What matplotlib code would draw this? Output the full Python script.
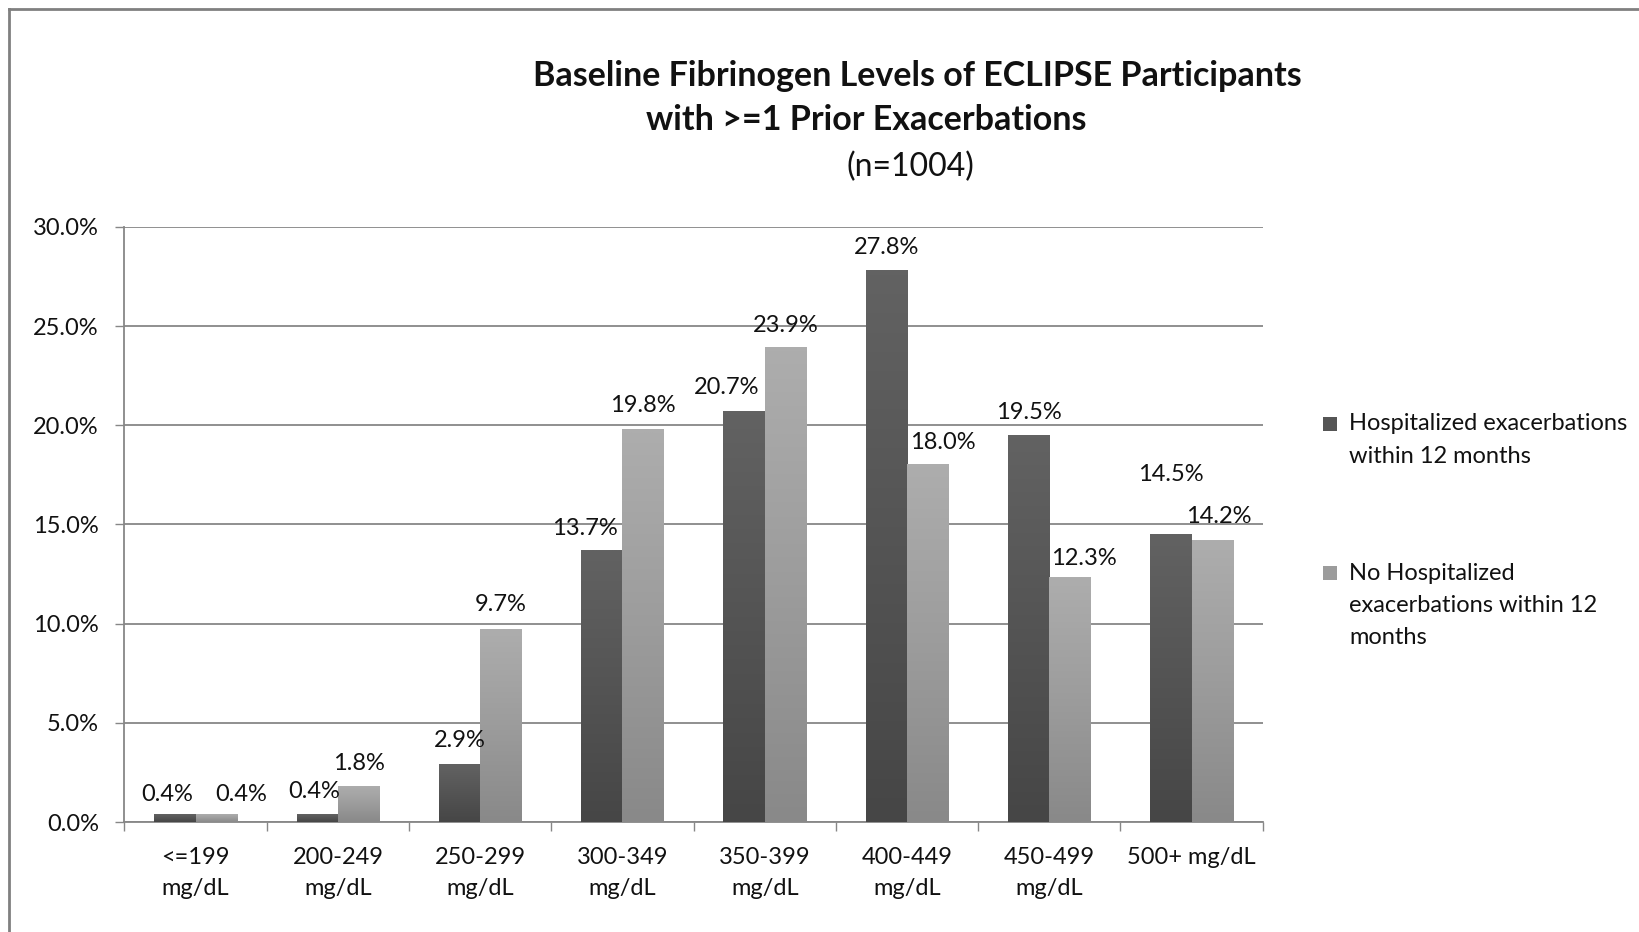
import numpy as np
import matplotlib
matplotlib.use("Agg")
import matplotlib.pyplot as plt
from matplotlib.colors import LinearSegmentedColormap
from matplotlib.patches import Rectangle
from matplotlib.lines import Line2D

plt.rcParams['font.family'] = ['Lato', 'DejaVu Sans']

# data
categories = ['<=199\nmg/dL', '200-249\nmg/dL', '250-299\nmg/dL', '300-349\nmg/dL',
              '350-399\nmg/dL', '400-449\nmg/dL', '450-499\nmg/dL', '500+ mg/dL']
hospitalized = [0.4, 0.4, 2.9, 13.7, 20.7, 27.8, 19.5, 14.5]
not_hospitalized = [0.4, 1.8, 9.7, 19.8, 23.9, 18.0, 12.3, 14.2]
series_names = [['Hospitalized exacerbations', 'within 12 months'],
                ['No Hospitalized', 'exacerbations within 12', 'months']]

# label nudges in pixels (where Excel put the labels)
dark_dx = [-8, -3, 0, -17, -17, 0, 0, 0]
dark_dy = [-3, 0, 1, -1, 1, 0, 0, 37]
light_dx = [25, 0, 0, 0, 0, 15, 14, 7]
light_dy = [-3, 0, 2, 1, -1, -1, -3, 1]

dark_cmap = LinearSegmentedColormap.from_list('dark', ['#464646', '#545454', '#626262'])
light_cmap = LinearSegmentedColormap.from_list('light', ['#898989', '#9c9c9c', '#adadad'])

fig = plt.figure(figsize=(16.4, 9.32), dpi=100)
ax = fig.add_axes([0.0759, 0.118, 0.694, 0.6386])

x = np.arange(len(categories))
w = 0.29
grad = np.linspace(0, 1, 100).reshape(-1, 1)

for vals, off, cmap, dxs, dys in [(hospitalized, -w / 2, dark_cmap, dark_dx, dark_dy),
                                   (not_hospitalized, w / 2, light_cmap, light_dx, light_dy)]:
    bars = ax.bar(x + off, vals, width=w, color='none', edgecolor='none', zorder=3)
    for b, v, dx, dy in zip(bars, vals, dxs, dys):
        x0 = b.get_x()
        ax.imshow(grad, extent=[x0, x0 + w, 0, v], origin='lower', aspect='auto',
                  cmap=cmap, zorder=3, interpolation='bilinear')
        ax.annotate(f'{v:.1f}%', (x0 + w / 2, v), xytext=(dx, 23 + dy),
                    textcoords='offset pixels', ha='center', va='center',
                    fontsize=17, color='#111111', zorder=5)

ax.set_xlim(-0.5, len(categories) - 0.5)
ax.set_ylim(0, 30)
ax.set_yticks(np.arange(0, 31, 5))
ax.set_yticklabels([f'{t:.1f}%' for t in np.arange(0, 31, 5)])
ax.set_xticks(x)
ax.set_xticklabels(categories, linespacing=1.6)
ax.set_xticks(np.arange(-0.5, len(categories), 1), minor=True)

ax.grid(axis='y', color='#878787', linewidth=1.3, zorder=0)
ax.set_axisbelow(True)
for s in ['top', 'right']:
    ax.spines[s].set_visible(False)
for s in ['left', 'bottom']:
    ax.spines[s].set_color('#878787')
    ax.spines[s].set_linewidth(1.3)

ax.tick_params(axis='y', direction='out', length=6.5, width=1.0, color='#878787',
               pad=12, labelsize=17, labelcolor='#111111')
ax.tick_params(axis='x', which='major', length=0, pad=18, labelsize=17, labelcolor='#111111')
ax.tick_params(axis='x', which='minor', direction='out', length=6.5, width=1.0, color='#878787')

# title
fig.text(917 / 1640, 1 - 76 / 932, 'Baseline Fibrinogen Levels of ECLIPSE Participants',
         ha='center', va='center', fontsize=24.5, fontweight='bold', color='#111111')
fig.text(866 / 1640, 1 - 120 / 932, 'with >=1 Prior Exacerbations',
         ha='center', va='center', fontsize=24.5, fontweight='bold', color='#111111')
fig.text(910 / 1640, 1 - 167 / 932, '(n=1004)',
         ha='center', va='center', fontsize=23, color='#111111')

# legend, drawn by hand so the square sits at the first text line
legend_colors = ['#555555', '#9c9c9c']
entry_top = [424, 573]
for name_lines, col, y0 in zip(series_names, legend_colors, entry_top):
    fig.add_artist(Rectangle(((1330 - 7) / 1640, 1 - (y0 + 7) / 932), 14 / 1640, 14 / 932,
                             transform=fig.transFigure, facecolor=col, edgecolor='none'))
    for k, line in enumerate(name_lines):
        fig.text(1349 / 1640, 1 - (y0 + 32.5 * k) / 932, line, ha='left', va='center',
                 fontsize=17, color='#111111')

# frame on top and left edges
fig.add_artist(Line2D([8.5 / 1640, 8.5 / 1640], [0, 1 - 8.5 / 932], transform=fig.transFigure,
                      color='#808080', linewidth=2))
fig.add_artist(Line2D([8.5 / 1640, 1], [1 - 8.5 / 932, 1 - 8.5 / 932], transform=fig.transFigure,
                      color='#808080', linewidth=2))

fig.savefig('out.png', dpi=100)
